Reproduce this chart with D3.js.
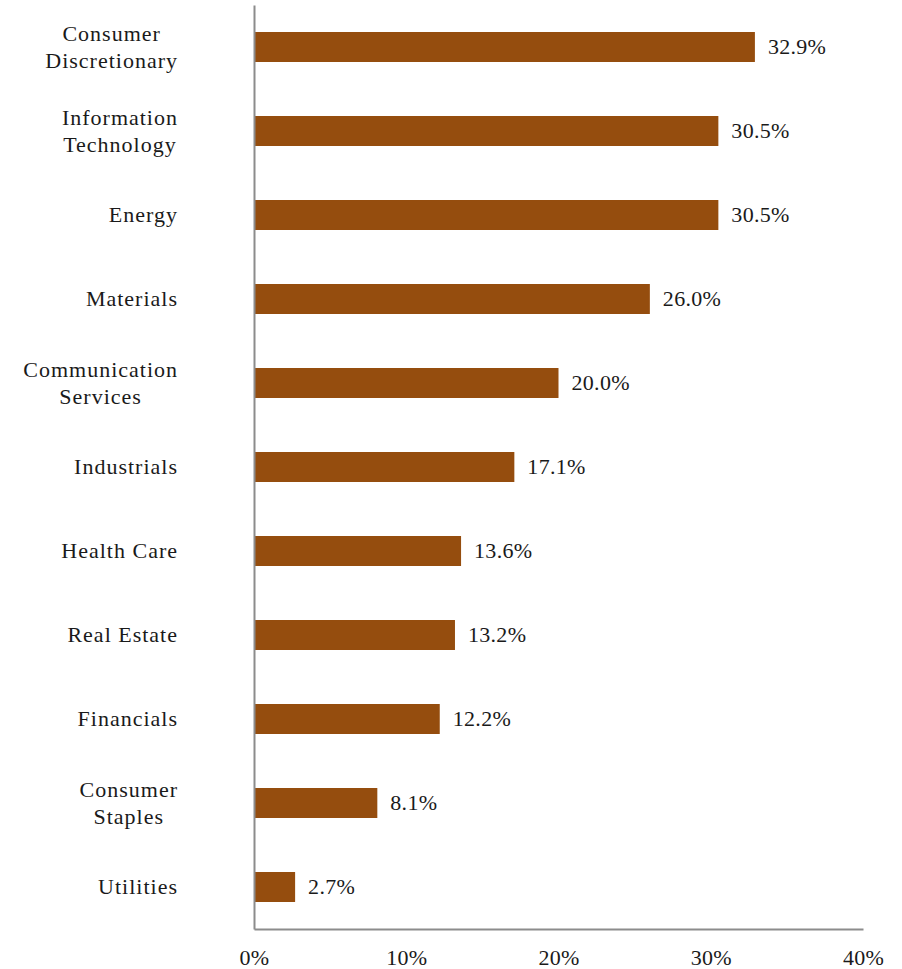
<!DOCTYPE html>
<html>
<head>
<meta charset="utf-8">
<script src="https://cdn.jsdelivr.net/npm/d3@7"></script>
<style>
  body { margin: 0; background: #fff; }
  text { font-family: "Liberation Serif", "DejaVu Serif", serif; fill: #1a1a1a; }
</style>
</head>
<body>
<div id="chart"></div>
<script>
// sectors, top to bottom
const categories = [
  "Consumer\nDiscretionary",
  "Information\nTechnology",
  "Energy",
  "Materials",
  "Communication\nServices",
  "Industrials",
  "Health Care",
  "Real Estate",
  "Financials",
  "Consumer\nStaples",
  "Utilities"
];
const values = [32.9, 30.5, 30.5, 26.0, 20.0, 17.1, 13.6, 13.2, 12.2, 8.1, 2.7];
const xTicks = [0, 10, 20, 30, 40];

const width = 902, height = 969;
const margin = { top: 5, right: 39, bottom: 40, left: 254 };
const innerW = width - margin.left - margin.right;
const innerH = height - margin.top - margin.bottom;

const data = categories.map((c, i) => ({ cat: c, val: values[i] }));

const svg = d3.select('#chart').append('svg')
  .attr('width', width).attr('height', height);
const g = svg.append('g').attr('transform', `translate(${margin.left},${margin.top})`);

const x = d3.scaleLinear().domain([0, 40]).range([0, innerW]);
const y = d3.scaleBand().domain(categories).range([0, innerH]).paddingInner(0.643).paddingOuter(0.3215);

// bars
g.selectAll('rect.bar').data(data).enter().append('rect')
  .attr('class', 'bar')
  .attr('x', 0)
  .attr('y', d => y(d.cat))
  .attr('width', d => x(d.val))
  .attr('height', y.bandwidth())
  .attr('fill', '#954d0e');

// value labels
g.selectAll('text.val').data(data).enter().append('text')
  .attr('class', 'val')
  .attr('x', d => x(d.val) + 13)
  .attr('y', d => y(d.cat) + y.bandwidth() / 2 + 7)
  .style('font-size', '22px')
  .style('letter-spacing', '0.3px')
  .text(d => d.val.toFixed(1) + '%');

// x axis
const xAxis = d3.axisBottom(x).tickValues(xTicks).tickSize(0).tickPadding(20).tickFormat(d => d + '%');
const gx = g.append('g').attr('transform', `translate(0,${innerH})`).call(xAxis);
gx.select('.domain').attr('stroke', '#8c8c8c').attr('stroke-width', 2);
gx.selectAll('text').style('font-size', '22px').style('letter-spacing', '0.3px').attr('fill', '#1a1a1a');

// y axis line
const yAxis = d3.axisLeft(y).tickSize(0).tickFormat('');
const gy = g.append('g').call(yAxis);
gy.select('.domain').attr('stroke', '#8c8c8c').attr('stroke-width', 2);

// category labels (multi-line, centered block, right edge aligned)
const labelRight = -76;
const lineH = 27;
data.forEach(d => {
  const lines = d.cat.split('\n');
  const cy = y(d.cat) + y.bandwidth() / 2;
  const t = g.append('text').style('font-size', '22px').style('letter-spacing', '1px');
  lines.forEach((ln, i) => {
    t.append('tspan')
      .attr('x', labelRight)
      .attr('y', cy + 7 + (i - (lines.length - 1) / 2) * lineH)
      .text(ln);
  });
  if (lines.length > 1) {
    const maxW = d3.max(t.selectAll('tspan').nodes(), n => n.getComputedTextLength());
    t.attr('text-anchor', 'middle');
    t.selectAll('tspan').attr('x', labelRight - maxW / 2);
  } else {
    t.attr('text-anchor', 'end');
  }
});
</script>
</body>
</html>
